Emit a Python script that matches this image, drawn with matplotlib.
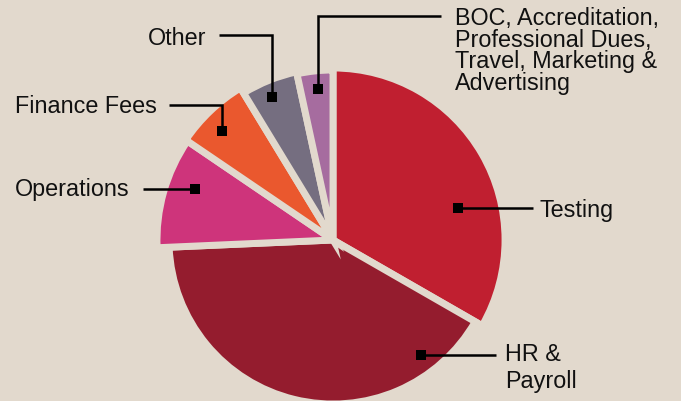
import matplotlib
matplotlib.use("Agg")
import matplotlib.pyplot as plt

# spending breakdown (% of total), clockwise from 12 o'clock
categories = ["Testing", "HR & Payroll", "Operations", "Finance Fees", "Other",
              "BOC, Accreditation, Professional Dues, Travel, Marketing & Advertising"]
shares = [33.3, 41.0, 10.2, 6.8, 5.3, 3.4]
colors = ["#c01f30", "#941c2e", "#ce347b", "#ea582e", "#756e80", "#a66c9f"]

label_texts = ["Testing", "HR &\nPayroll", "Operations", "Finance Fees", "Other",
               "BOC, Accreditation,\nProfessional Dues,\nTravel, Marketing &\nAdvertising"]

BG = "#e2d9cd"
W, H = 681, 402

# layout in pixel space (y measured from the top of the image)
center = (333, 241)
base_r = 166
radii = [172, 164, 176, 178, 172, 170]   # per-wedge outer radius
shift = [7, 4, 3, 4, 2, 2]               # explode distance, px

fig = plt.figure(figsize=(W / 100, H / 100), dpi=100, facecolor=BG)
ax = fig.add_axes([0, 0, 1, 1])
ax.set_facecolor(BG)
ax.axis("off")

wedges, _ = ax.pie(shares, colors=colors, startangle=90, counterclock=False,
                   center=(center[0], H - center[1]), radius=base_r,
                   explode=[s / base_r for s in shift],
                   wedgeprops=dict(edgecolor=BG, linewidth=5))
for w, r in zip(wedges, radii):
    w.set_radius(r)
ax.set_xlim(0, W)
ax.set_ylim(0, H)
ax.set_aspect("equal")

# leader lines: marker point first, then elbow/end points
leaders = [
    [(458, 209), (533, 209)],
    [(421, 356), (496, 356)],
    [(195, 190), (143, 190)],
    [(222, 132), (222, 106), (169, 106)],
    [(272, 98), (272, 36), (219, 36)],
    [(318, 90), (318, 17), (441, 17)],
]
# text anchor: left x, baseline of the last line
text_pos = [(540, 217), (505, 388), (15, 196), (15, 113), (148, 45), (455, 90)]
spacing = [1.2, 1.2, 1.2, 1.2, 1.2, 0.93]

for pts, (tx, ty), txt, ls in zip(leaders, text_pos, label_texts, spacing):
    xs = [p[0] for p in pts]
    ys = [H - p[1] for p in pts]
    ax.plot(xs, ys, color="black", lw=1.8, solid_capstyle="butt", solid_joinstyle="miter")
    ax.plot(xs[0], ys[0], marker="s", ms=7.2, color="black", mew=0)
    ax.text(tx, H - ty, txt, ha="left", va="baseline", fontsize=16.8,
            family="Liberation Sans", color="#111111", linespacing=ls)

fig.savefig("out.png", dpi=100, facecolor=BG)
